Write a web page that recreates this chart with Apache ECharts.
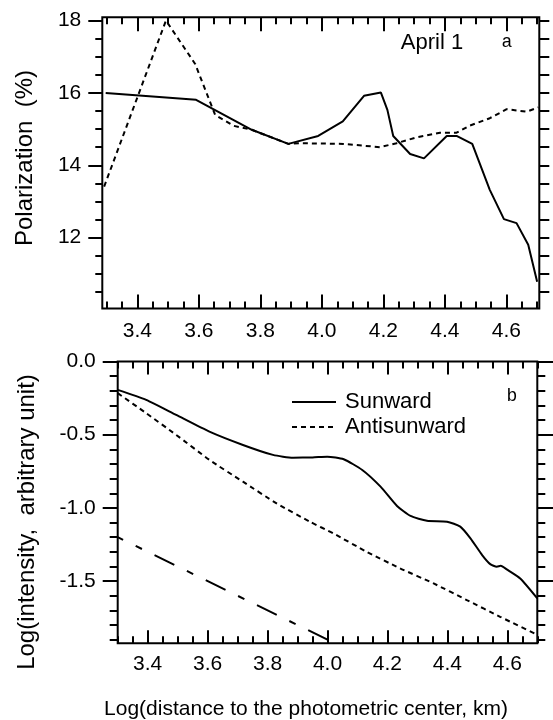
<!DOCTYPE html>
<html><head><meta charset="utf-8">
<script src="https://cdn.jsdelivr.net/npm/echarts@6/dist/echarts.min.js"></script>
<style>html,body{margin:0;padding:0;background:#fff}#c{width:553px;height:720px}</style>
</head><body><div id="c"></div><script>
// ---- tick labels ----
const xTickValues = [3.4, 3.6, 3.8, 4.0, 4.2, 4.4, 4.6];
const polTickValues = [12, 14, 16, 18];
const logTickValues = [-1.5, -1.0, -0.5, 0.0];

// ---- panel a: polarization (%) ----
const polSunX = [3.297, 3.591, 3.772, 3.891, 3.988, 4.068, 4.137, 4.192, 4.213, 4.232, 4.287, 4.332, 4.406, 4.438, 4.489, 4.546, 4.592, 4.633, 4.671, 4.700];
const polSunY = [16.0, 15.81, 14.98, 14.59, 14.81, 15.21, 15.92, 16.01, 15.53, 14.81, 14.31, 14.19, 14.81, 14.81, 14.59, 13.32, 12.51, 12.40, 11.80, 10.78];
const polAntiX = [3.292, 3.493, 3.588, 3.653, 3.713, 3.772, 3.891, 3.929, 4.070, 4.189, 4.243, 4.308, 4.384, 4.438, 4.482, 4.546, 4.601, 4.666, 4.704];
const polAntiY = [13.41, 18.0, 16.8, 15.39, 15.09, 14.98, 14.59, 14.61, 14.59, 14.50, 14.61, 14.77, 14.90, 14.90, 15.10, 15.30, 15.55, 15.48, 15.60];

// ---- panel b: log intensity ----
const intSunX = [3.300, 3.395, 3.495, 3.606, 3.718, 3.818, 3.885, 3.950, 3.999, 4.054, 4.116, 4.177, 4.232, 4.277, 4.332, 4.399, 4.443, 4.477, 4.516, 4.543, 4.565, 4.578, 4.598, 4.643, 4.700];
const intSunY = [-0.194, -0.262, -0.365, -0.479, -0.570, -0.638, -0.657, -0.655, -0.650, -0.668, -0.741, -0.855, -0.987, -1.055, -1.088, -1.094, -1.128, -1.208, -1.322, -1.384, -1.402, -1.396, -1.420, -1.482, -1.618];
const intAntiX = [3.300, 3.395, 3.495, 3.606, 3.718, 3.830, 3.941, 4.019, 4.131, 4.242, 4.354, 4.465, 4.576, 4.700];
const intAntiY = [-0.216, -0.353, -0.501, -0.672, -0.821, -0.969, -1.094, -1.174, -1.300, -1.413, -1.516, -1.630, -1.744, -1.867];
const refX = [3.3, 4.0];
const refY = [-1.2, -1.9];

const zip = (xs, ys) => xs.map((x, i) => [x, ys[i]]);
const steps = (a, b, s) => { const r = []; for (let v = a; v <= b + 1e-9; v += s) r.push(+v.toFixed(3)); return r; };

const FONT = 'Liberation Sans, Arial, Helvetica, sans-serif';
const BLACK = '#000';

function axis(grid, min, max, pos, ticks, len, inside, label, fmt, margin) {
  return {
    type: 'value', gridIndex: grid, min: min, max: max, position: pos,
    axisLine: { show: false, onZero: false },
    axisTick: { show: true, customValues: ticks, length: len, inside: inside, lineStyle: { color: BLACK, width: 2 } },
    axisLabel: label ? { show: true, customValues: ticks, formatter: fmt, fontSize: 21, fontFamily: FONT, color: BLACK, margin: margin } : { show: false },
    splitLine: { show: false }
  };
}

const aX = [3.286, 4.707], aY = [10.04, 18.09];
const bX = [3.3, 4.7], bY = [-1.925, 0.0];
const f1 = v => Number(v).toFixed(1);
const f0 = v => Number(v).toFixed(0);

const xAxes = [
  axis(0, aX[0], aX[1], 'bottom', xTickValues, 14, true, true, f1, 12),
  axis(0, aX[0], aX[1], 'bottom', steps(3.3, 4.7, 0.05), 7, true, false),
  axis(0, aX[0], aX[1], 'top', xTickValues, 14, true, false),
  axis(0, aX[0], aX[1], 'top', steps(3.3, 4.7, 0.05), 7, true, false),
  axis(1, bX[0], bX[1], 'bottom', xTickValues, 13, true, true, f1, 10),
  axis(1, bX[0], bX[1], 'bottom', steps(3.3, 4.7, 0.05), 7, true, false),
  axis(1, bX[0], bX[1], 'top', xTickValues, 13, true, false),
  axis(1, bX[0], bX[1], 'top', steps(3.3, 4.7, 0.05), 7, true, false)
];
const yAxes = [
  axis(0, aY[0], aY[1], 'left', polTickValues, 14, false, true, f0, 21),
  axis(0, aY[0], aY[1], 'left', steps(10.5, 18, 0.5), 7, false, false),
  axis(0, aY[0], aY[1], 'right', steps(10.5, 18, 0.5), 10, false, false),
  axis(0, aY[0], aY[1], 'right', polTickValues, 10, false, false),
  axis(1, bY[0], bY[1], 'left', logTickValues, 15, false, true, f1, 22),
  axis(1, bY[0], bY[1], 'left', steps(-1.9, 0, 0.1), 8, false, false),
  axis(1, bY[0], bY[1], 'right', logTickValues, 16, false, false),
  axis(1, bY[0], bY[1], 'right', steps(-1.9, 0, 0.1), 8, false, false)
];

function line(name, xi, yi, data, dash, smooth) {
  return {
    type: 'line', name: name, xAxisIndex: xi, yAxisIndex: yi, data: data,
    symbol: 'none', smooth: smooth || false, clip: true,
    itemStyle: { color: BLACK },
    lineStyle: { color: BLACK, width: 2, type: dash || 'solid', dashOffset: 0 },
    emphasis: { disabled: true }
  };
}

const refLine = line('ref', 4, 4, zip(refX, refY), [22, 14, 7, 14]);
refLine.lineStyle.dashOffset = 16;

const chart = echarts.init(document.getElementById('c'), null, { renderer: 'canvas' });
chart.setOption({
  animation: false,
  backgroundColor: '#fff',
  grid: [
    { left: 102.3, top: 17.3, width: 437, height: 291.2, show: true, borderColor: BLACK, borderWidth: 2, backgroundColor: 'transparent' },
    { left: 117.7, top: 361.5, width: 419.6, height: 281.8, show: true, borderColor: BLACK, borderWidth: 2, backgroundColor: 'transparent' }
  ],
  xAxis: xAxes,
  yAxis: yAxes,
  legend: {
    data: ['Sunward', 'Antisunward'],
    orient: 'vertical', left: 291, top: 391, padding: 0,
    itemWidth: 44, itemHeight: 14, itemGap: 3,
    selectedMode: false,
    itemStyle: { opacity: 0 },
    textStyle: { fontSize: 22, fontFamily: FONT, color: BLACK, padding: [0, 0, 0, 4] }
  },
  series: [
    line('Sunward', 0, 0, zip(polSunX, polSunY)),
    line('Antisunward', 0, 0, zip(polAntiX, polAntiY), [5, 4]),
    line('Sunward', 4, 4, zip(intSunX, intSunY), 'solid', 0.2),
    line('Antisunward', 4, 4, zip(intAntiX, intAntiY), [5, 4], 0.2),
    refLine
  ],
  graphic: [
    { type: 'text', x: 432, y: 43, style: { text: 'April 1', fontSize: 22, fontFamily: FONT, fill: BLACK, align: 'center', verticalAlign: 'middle' } },
    { type: 'text', x: 507, y: 42, style: { text: 'a', fontSize: 18, fontFamily: 'Liberation Mono, monospace', fill: BLACK, align: 'center', verticalAlign: 'middle' } },
    { type: 'text', x: 512, y: 396, style: { text: 'b', fontSize: 18, fontFamily: 'Liberation Mono, monospace', fill: BLACK, align: 'center', verticalAlign: 'middle' } },
    { type: 'text', x: 25, y: 158, rotation: Math.PI / 2, style: { text: 'Polarization  (%)', fontSize: 24, fontFamily: FONT, fill: BLACK, align: 'center', verticalAlign: 'middle' } },
    { type: 'text', x: 27, y: 522, rotation: Math.PI / 2, style: { text: 'Log(intensity,  arbitrary unit)', fontSize: 24, fontFamily: FONT, fill: BLACK, align: 'center', verticalAlign: 'middle' } },
    { type: 'text', x: 306, y: 709, style: { text: 'Log(distance to the photometric center, km)', fontSize: 21, fontFamily: FONT, fill: BLACK, align: 'center', verticalAlign: 'middle' } }
  ]
});
</script></body></html>
